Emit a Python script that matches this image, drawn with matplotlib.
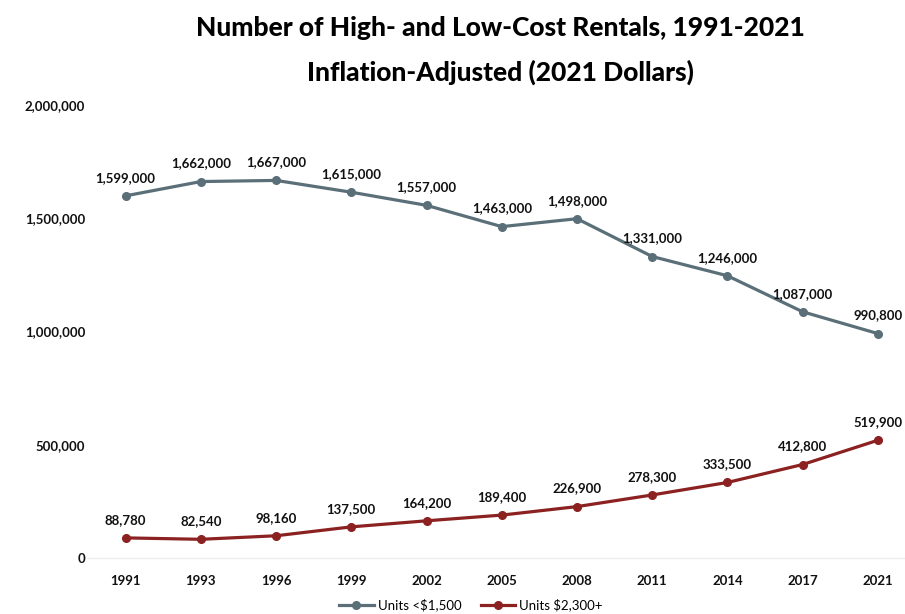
import numpy as np
import matplotlib.pyplot as plt
from matplotlib.ticker import FuncFormatter

years = ["1991", "1993", "1996", "1999", "2002", "2005", "2008", "2011", "2014", "2017", "2021"]
low_cost = [1599000, 1662000, 1667000, 1615000, 1557000, 1463000, 1498000, 1331000, 1246000, 1087000, 990800]
high_cost = [88780, 82540, 98160, 137500, 164200, 189400, 226900, 278300, 333500, 412800, 519900]
series_names = ["Units <$1,500", "Units $2,300+"]

GRAY = "#5b6f79"
RED = "#8c2121"

plt.rcParams["font.family"] = ["Lato", "DejaVu Sans"]

fig = plt.figure(figsize=(9.05, 6.14), dpi=100)
ax = fig.add_axes([88 / 905, 56 / 614, 817 / 905, 453 / 614])

x = np.arange(len(years))
for vals, color, name in [(low_cost, GRAY, series_names[0]), (high_cost, RED, series_names[1])]:
    ax.plot(x, vals, color=color, lw=2.3, marker="o", ms=5.5, label=name)
    for xi, v in zip(x, vals):
        ax.annotate(f"{v:,}", (xi, v), xytext=(0, 13), textcoords="offset points",
                    ha="center", va="center", fontsize=9.5, fontweight="bold", color="#111111")

ax.set_xlim(-0.5, 10.36)
ax.set_ylim(0, 2000000)
ax.set_yticks([0, 500000, 1000000, 1500000, 2000000])
ax.yaxis.set_major_formatter(FuncFormatter(lambda v, p: f"{int(v):,}"))
ax.set_xticks(x)
ax.set_xticklabels(years)
for lab in ax.get_xticklabels() + ax.get_yticklabels():
    lab.set_fontweight("bold")
    lab.set_fontsize(9.5)
ax.tick_params(axis="both", length=0, colors="#111111")
ax.tick_params(axis="x", pad=12)
ax.tick_params(axis="y", pad=2)

for s in ["top", "right", "left"]:
    ax.spines[s].set_visible(False)
ax.spines["bottom"].set_color("#eeeeee")
ax.spines["bottom"].set_linewidth(1)

fig.text(500 / 905, 1 - 28 / 614, "Number of High- and Low-Cost Rentals, 1991-2021",
         ha="center", va="center", fontsize=19, fontweight="black", color="#000000")
fig.text(500 / 905, 1 - 72 / 614, "Inflation-Adjusted (2021 Dollars)",
         ha="center", va="center", fontsize=19, fontweight="black", color="#000000")

fig.legend(loc="center", bbox_to_anchor=(471 / 905, 1 - 605 / 614), ncol=2, frameon=False,
           fontsize=9.5, handlelength=2.6, columnspacing=1.5, handletextpad=0.3)

fig.savefig("out.png", dpi=100)
